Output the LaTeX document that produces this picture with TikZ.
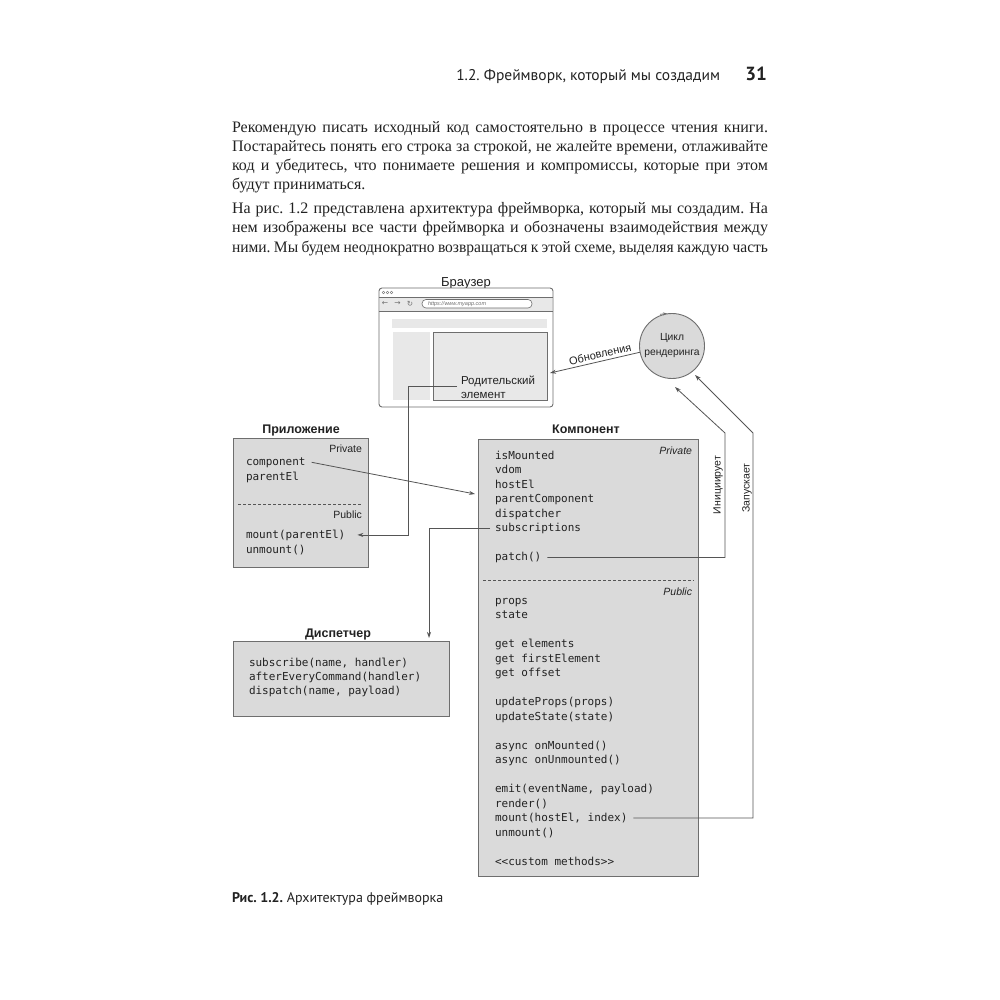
\documentclass[tikz,border=0pt]{standalone}
\usepackage{fontspec}
\setmainfont{Liberation Serif}
\newfontfamily\hdr{PT Sans}
\newfontfamily\dsans{Liberation Sans}
\setmonofont{DejaVu Sans Mono}
\newfontfamily\symf{DejaVu Sans}
\usetikzlibrary{arrows.meta}
\definecolor{txt}{HTML}{222222}
\definecolor{boxfill}{HTML}{DADADA}
\definecolor{boxline}{HTML}{6E6E6E}
\definecolor{lightfill}{HTML}{E8E8E8}
\definecolor{conn}{HTML}{555555}
\frenchspacing
\begin{document}
\begin{tikzpicture}[x=1pt,y=-1pt,
 every node/.style={inner sep=0pt, outer sep=0pt, text=txt},
 bodyline/.style={anchor=base west, font=\fontsize{16}{19}\selectfont},
 codeln/.style={anchor=base west, font=\ttfamily\fontsize{11}{14}\selectfont},
 umlbox/.style={draw=boxline, fill=boxfill, line width=0.9pt, anchor=north west},
 boxttl/.style={font=\dsans\bfseries\fontsize{12.5}{14}\selectfont, anchor=base},
 tagtxt/.style={font=\dsans\fontsize{10.5}{12}\selectfont, anchor=base east},
 itag/.style={font=\dsans\itshape\fontsize{10.5}{12}\selectfont, anchor=base east},
 wire/.style={draw=conn, line width=0.8pt},
 arr/.style={wire, -{Stealth[length=6pt,width=4pt]}},
 dsh/.style={draw=conn, line width=0.8pt, dash pattern=on 3pt off 2pt},
 lbl/.style={font=\dsans\fontsize{11}{13}\selectfont},
]
\fill[white] (0,0) rectangle (1000,1000);
\useasboundingbox (0,0) rectangle (1000,1000);

% header
\node[anchor=base east, font=\hdr\fontsize{15.5}{18}\selectfont] (hd) at (720,81) {1.2. Фреймворк, который мы создадим};
\node[anchor=base east, font=\hdr\bfseries\fontsize{19}{22}\selectfont] (pg) at (767,81) {31};

% body text
\node[bodyline] (p1) at (232,133) {\makebox[536pt][s]{Рекомендую писать исходный код самостоятельно в процессе чтения книги.}};
\node[bodyline] (p2) at (232,152) {\makebox[536pt][s]{Постарайтесь понять его строка за строкой, не жалейте времени, отлаживайте}};
\node[bodyline] (p3) at (232,171) {\makebox[536pt][s]{код и убедитесь, что понимаете решения и компромиссы, которые при этом}};
\node[bodyline] (p4) at (232,190) {будут приниматься.};
\node[bodyline] (p5) at (232,214) {\makebox[536pt][s]{На рис. 1.2 представлена архитектура фреймворка, который мы создадим. На}};
\node[bodyline] (p6) at (232,233) {\makebox[536pt][s]{нем изображены все части фреймворка и обозначены взаимодействия между}};
\node[bodyline] (p7) at (232,252) {\makebox[536pt][s]{\addfontfeature{FakeStretch=0.97}ними. Мы будем неоднократно возвращаться к этой схеме, выделяя каждую часть}};

% browser
\node[font=\dsans\fontsize{13}{15}\selectfont, anchor=base] (brt) at (466,286) {Браузер};
\node[draw=boxline, fill=white, rounded corners=3pt, line width=0.9pt, anchor=north west, minimum width=174pt, minimum height=119pt] (br) at (379,288) {};
\fill[lightfill] (380,297) rectangle (552,311);
\draw[boxline, line width=0.6pt] (379,297) -- (553,297) (379,311) -- (553,311);
\foreach \xx in {383.5,387.5,391.5} \draw[boxline, line width=0.4pt] (\xx,292.5) circle (1.4);
\node[font=\symf\fontsize{7.5}{8}\selectfont, text=boxline] (nb) at (385,304) {←};
\node[font=\symf\fontsize{7.5}{8}\selectfont, text=boxline] (nf) at (397.5,304) {→};
\node[font=\symf\fontsize{7.5}{8}\selectfont, text=boxline] (nr) at (410,304) {↻};
\node[draw=boxline, fill=white, line width=0.6pt, rounded corners=4pt, anchor=north west, minimum width=110pt, minimum height=8.5pt] (url) at (422,299.5) {};
\node[font=\dsans\itshape\fontsize{5.5}{6}\selectfont, text=boxline, anchor=west] (urlt) at (428,304) {https://www.myapp.com};
\fill[lightfill] (392,319) rectangle (547,328);
\fill[lightfill] (393,332) rectangle (430,400);
\node[draw=boxline, fill=lightfill, line width=0.8pt, anchor=north west, minimum width=114pt, minimum height=68pt] (panel) at (433,332) {};
\node[lbl, anchor=base west, font=\dsans\fontsize{11.5}{13}\selectfont] (pt1) at (461,384) {Родительский};
\node[lbl, anchor=base west, font=\dsans\fontsize{11.5}{13}\selectfont] (pt2) at (461,398) {элемент};

% render loop
\node[circle, draw=boxline, fill=boxfill, line width=0.9pt, minimum size=65pt, align=center, font=\dsans\fontsize{10.3}{15}\selectfont] (loop) at (672,346) {Цикл\\рендеринга};
\draw[boxline, line width=0.7pt, -{Stealth[length=4pt,width=3pt]}] ([xshift=-12pt,yshift=-0.8pt]loop.north) -- ([xshift=-5pt]loop.north);
\coordinate (updtip) at (550,373);
\draw[arr] (loop.191) -- (updtip);
\node[lbl, rotate=13, anchor=south] (upd) at (601,358) {Обновления};

% application
\node[boxttl] (appt) at (301,433) {Приложение};
\node[umlbox, minimum width=135pt, minimum height=129pt] (app) at (233,438) {};
\node[tagtxt] (appPriv) at (362,452) {Private};
\node[codeln] (cmp) at (246,465) {component};
\node[codeln] (pel) at (246,480) {parentEl};
\draw[dsh] (238,504) -- (362,504);
\node[tagtxt] (appPub) at (362,518) {Public};
\node[codeln] (mnt) at (246,538) {mount(parentEl)};
\node[codeln] (umt) at (246,553) {unmount()};

% component
\node[boxttl] (compt) at (586,433) {Компонент};
\node[umlbox, minimum width=220pt, minimum height=437pt] (comp) at (478,439) {};
\node[itag] (cPriv) at (692,454) {Private};
\draw[dsh] (483,580) -- (694,580);
\node[itag] (cPub) at (692,595) {Public};
\foreach \i/\codetext in {0/isMounted,1/vdom,2/hostEl,3/parentComponent,4/dispatcher,5/subscriptions,7/patch(),10/props,11/state,13/get elements,14/get firstElement,15/get offset,17/updateProps(props),18/updateState(state),20/async onMounted(),21/async onUnmounted(),23/{emit(eventName, payload)},24/render(),25/{mount(hostEl, index)},26/unmount(),28/<<custom methods>>}
  \node[codeln] (k\i) at (495,459+14.5*\i) {\codetext};

% dispatcher
\node[boxttl] (dispt) at (338,637) {Диспетчер};
\node[umlbox, minimum width=216pt, minimum height=75pt] (disp) at (233,641) {};
\node[codeln] (d1) at (249,666.5) {subscribe(name, handler)};
\node[codeln] (d2) at (249,680.5) {afterEveryCommand(handler)};
\node[codeln] (d3) at (249,694.5) {dispatch(name, payload)};

% connectors
\draw[arr] ([xshift=-4pt]pt1.south west) -| (408,0 |- mnt.east) -- ([xshift=12pt]mnt.east);
\draw[arr] ([xshift=6pt]cmp.east) -- ([xshift=-3pt]comp.west |- 0,494);
\draw[arr] ([xshift=-5pt]k5.west) -| ([xshift=-20pt,yshift=3pt]disp.north east);
\coordinate (tip1) at (675,387);
\coordinate (tip2) at (695,375);
\draw[arr] ([xshift=6pt]k7.east) -| (725,433) -- (tip1);
\draw[arr] ([xshift=6pt]k25.east) -| (753,433) -- (tip2);
\node[lbl, rotate=90, font=\dsans\fontsize{10.5}{12}\selectfont] (ini) at (718,485) {Инициирует};
\node[lbl, rotate=90, font=\dsans\fontsize{10.5}{12}\selectfont] (zap) at (747,488) {Запускает};

% caption
\node[anchor=base west, font=\hdr\fontsize{14}{16}\selectfont] (cap) at (232,902) {\textbf{Рис. 1.2.} Архитектура фреймворка};
\end{tikzpicture}
\end{document}
